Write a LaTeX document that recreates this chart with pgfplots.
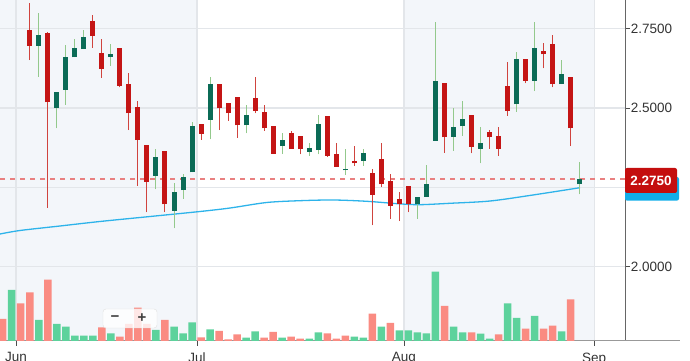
\documentclass[border=0pt]{standalone}
\usepackage{fontspec}
\setmainfont{Liberation Sans}
\usepackage{pgfplots}
\usepackage{pgfplotstable}
\pgfplotsset{compat=1.18}
\definecolor{band}{HTML}{F3F6FA}
\definecolor{gridc}{HTML}{E3E6EA}
\definecolor{txt}{HTML}{333333}
\definecolor{redbody}{HTML}{C41515}
\definecolor{redwick}{HTML}{D0443E}
\definecolor{grnbody}{HTML}{0B6B56}
\definecolor{grnwick}{HTML}{93C98C}
\definecolor{volgrn}{HTML}{5DD29C}
\definecolor{volred}{HTML}{FA8B82}
\definecolor{mablue}{HTML}{2DB3EA}
\definecolor{pricedash}{HTML}{E98080}
\definecolor{boxred}{HTML}{C40E0E}
\definecolor{boxblue}{HTML}{11AEEA}

\pgfplotstableread{
i O H L C
4 2.6965 2.8006 2.5988 2.7303
6 2.5010 2.5505 2.4360 2.5495
7 2.5568 2.6987 2.5095 2.6599
8 2.6599 2.7177 2.6599 2.6893
9 2.6861 2.7461 2.6861 2.7249
12 2.6618 2.7010 2.6335 2.6704
17 2.2864 2.3697 2.2436 2.3445
19 2.1760 2.2625 2.1205 2.2341
20 2.2413 2.2909 2.2139 2.2833
21 2.2972 2.4549 2.2972 2.4442
23 2.4622 2.5988 2.4013 2.5757
27 2.4454 2.5095 2.4202 2.4779
31 2.3801 2.4202 2.3549 2.3991
34 2.3621 2.3905 2.3486 2.3738
35 2.3675 2.4779 2.3539 2.4486
38 2.3030 2.3697 2.2896 2.3090
40 2.3328 2.3697 2.3180 2.3571
46 2.1962 2.2183 2.1499 2.2183
47 2.2202 2.3202 2.2202 2.2603
48 2.3969 2.7704 2.3969 2.5861
50 2.4095 2.5010 2.3653 2.4391
51 2.4432 2.5221 2.4126 2.4653
53 2.3707 2.4391 2.3256 2.3905
57 2.5117 2.6776 2.4883 2.6536
59 2.5852 2.7704 2.5536 2.6893
62 2.5757 2.6514 2.5757 2.6063
64 2.2593 2.3287 2.2278 2.2750
}\up

\pgfplotstableread{
i O H L C
3 2.7461 2.8303 2.6514 2.6965
5 2.7357 2.7398 2.1855 2.5180
10 2.7745 2.7934 2.6902 2.7271
11 2.6745 2.7167 2.5956 2.6230
13 2.6893 2.6893 2.5653 2.5703
14 2.5757 2.6095 2.4306 2.4833
15 2.5041 2.5221 2.2540 2.3991
16 2.3833 2.3833 2.1710 2.2675
18 2.3644 2.3644 2.1710 2.1962
22 2.4486 2.4486 2.3991 2.4180
24 2.5757 2.5757 2.4306 2.4991
25 2.5148 2.5148 2.4590 2.4833
26 2.5338 2.5338 2.4063 2.4454
28 2.5306 2.5988 2.4833 2.4905
29 2.4874 2.5095 2.4284 2.4360
30 2.4442 2.4442 2.3549 2.3549
32 2.4221 2.4284 2.3707 2.3707
33 2.4117 2.4117 2.3539 2.3697
36 2.4748 2.4748 2.3464 2.3495
37 2.3539 2.3905 2.3148 2.3148
39 2.3338 2.3801 2.3180 2.3256
41 2.2940 2.3066 2.1300 2.2256
42 2.3382 2.3905 2.2517 2.2593
43 2.2697 2.2909 2.1499 2.1918
44 2.2130 2.2341 2.1435 2.1972
45 2.2540 2.2540 2.1710 2.1972
49 2.5798 2.5798 2.3590 2.4076
52 2.4779 2.4779 2.3571 2.3779
54 2.4234 2.4306 2.3707 2.4076
55 2.4126 2.4391 2.3486 2.3707
56 2.5694 2.6442 2.4757 2.4915
58 2.6536 2.6536 2.5779 2.5852
60 2.6798 2.7060 2.6252 2.6694
61 2.7010 2.7303 2.5653 2.5757
63 2.5988 2.5988 2.3801 2.4360
}\down

\pgfplotstableread{
i v
1 51
4 21
6 17
7 14.3
8 5.3
9 5.3
10 5.3
12 7.7
17 11
19 14.3
20 7.7
21 18.7
23 11.7
27 3.3
28 9.7
31 3.3
34 2.3
35 8.7
39 4.3
40 3.3
42 14.3
44 10.7
45 10.7
46 8.7
47 7.7
48 69.3
50 14.3
51 8.7
53 7.3
54 2.3
56 37.7
57 23
59 25
62 9.7
}\volup

\pgfplotstableread{
i v
0 22
2 37.7
3 48.7
5 61.3
11 13.7
13 4.3
14 17
15 33.3
16 17
18 21
22 3.7
24 10
25 1.7
26 6.7
29 3.3
30 9
32 4.3
33 2.3
36 7.7
37 2.3
38 5.3
41 27.3
43 18
49 35
52 8.7
55 6.7
58 12.3
60 12.3
61 15.3
63 41.7
}\voldown

\pgfplotstableread{
x y
-0.3 2.275
69.02 2.275
}\lastprice

\begin{document}
\begin{tikzpicture}
\begin{axis}[
  at={(0pt,20pt)}, anchor=south west, scale only axis,
  width=625pt, height=341pt,
  xmin=-0.3, xmax=69.02, ymin=1.765, ymax=2.8407,
  set layers,
  axis x line=bottom, axis y line=right,
  axis line style={-},
  x axis line style={draw=black!40, line width=1pt},
  y axis line style={draw=black!60, line width=1pt},
  xtick={1.47,21.55,44.5,65.6},
  xticklabels={Jun,Jul,Aug,Sep},
  ytick={2.0,2.25,2.5,2.75},
  yticklabels={2.0000,,2.5000,2.7500},
  xmajorgrids, ymajorgrids,
  major grid style={draw=gridc, line width=1.2pt},
  tick align=outside,
  major tick length=5pt,
  tick style={draw=black!70, line width=0.8pt},
  tick label style={font=\fontsize{13.5}{16}\selectfont, text=txt},
  xticklabel style={anchor=north, inner sep=0pt, yshift=-6.5pt},
  yticklabel style={anchor=west, inner sep=0pt, xshift=0.7pt},
  clip=true,
]
\begin{pgfonlayer}{axis background}
\fill[band] (axis cs:-0.3,1.765) rectangle (axis cs:21.55,2.8407);
\fill[band] (axis cs:44.5,1.765) rectangle (axis cs:65.6,2.8407);
\end{pgfonlayer}

\addplot[color=mablue, line width=1.3pt, smooth, forget plot] coordinates {
(-0.3,2.1025) (1.92,2.1136) (6.36,2.1278) (10.79,2.1420) (16.34,2.1577)
(21.88,2.1735) (25.21,2.1845) (29.28,2.2019) (32.97,2.2076) (36.63,2.2098)
(40.37,2.2057) (44.07,2.1975) (46.28,2.1950) (49.61,2.1994) (54.05,2.2066)
(58.82,2.2256) (64.03,2.2486)};

% last-price line drawn as pgfplots error bars (horizontal), dashed
\addplot[draw=none, mark=none, forget plot, error bars/.cd, x dir=plus, x explicit, error mark=none,
  error bar style={draw=pricedash, line width=2pt, dash pattern=on 5pt off 5pt}]
  table[x=x, y=y, x error plus expr=69.32] {\lastprice};

% wicks
\addplot[draw=none, mark=none, forget plot, error bars/.cd, y dir=plus, y explicit, error mark=none, error bar style={draw=grnwick, line width=1pt}]
  table[x=i, y=L, y error plus expr=\thisrow{H}-\thisrow{L}] {\up};
\addplot[draw=none, mark=none, forget plot, error bars/.cd, y dir=plus, y explicit, error mark=none, error bar style={draw=redwick, line width=1pt}]
  table[x=i, y=L, y error plus expr=\thisrow{H}-\thisrow{L}] {\down};
% bodies
\addplot[draw=none, mark=none, forget plot, error bars/.cd, y dir=plus, y explicit, error mark=none, error bar style={draw=grnbody, line width=5pt}]
  table[x=i, y=O, y error plus expr=\thisrow{C}-\thisrow{O}] {\up};
\addplot[draw=none, mark=none, forget plot, error bars/.cd, y dir=plus, y explicit, error mark=none, error bar style={draw=redbody, line width=5pt}]
  table[x=i, y=C, y error plus expr=\thisrow{O}-\thisrow{C}] {\down};
\end{axis}

\begin{axis}[
  at={(0pt,20pt)}, anchor=south west, scale only axis,
  width=625pt, height=341pt,
  xmin=-0.3, xmax=69.02, ymin=0, ymax=341,
  hide axis,
]
\addplot[ybar, bar width=7.5pt, bar shift=0pt, fill=volgrn, draw=none] table[x=i, y=v] {\volup};
\addplot[ybar, bar width=7.5pt, bar shift=0pt, fill=volred, draw=none] table[x=i, y=v] {\voldown};
\end{axis}

\draw[black!40, line width=1pt] (625pt,20pt) -- (680pt,20pt);

% zoom buttons
\draw[draw=black!12, fill=white, fill opacity=0.8, rounded corners=3pt] (103pt,33pt) rectangle (157pt,52pt);
\node[text=black!75, font=\bfseries\fontsize{15}{16}\selectfont] at (115pt,42.5pt) {−};
\node[text=black!75, font=\bfseries\fontsize{15}{16}\selectfont] at (142pt,42.5pt) {+};

% price labels
\fill[boxblue, rounded corners=2pt] (625pt,160.4pt) rectangle (679pt,184pt);
\fill[boxred, rounded corners=2pt] (625pt,168pt) rectangle (677pt,193pt);
\node[text=white, font=\bfseries\fontsize{13.5}{16}\selectfont] at (651pt,180.5pt) {2.2750};

\pgfresetboundingbox
\path[use as bounding box] (0,0) rectangle (690pt,361pt);
\end{tikzpicture}
\end{document}
